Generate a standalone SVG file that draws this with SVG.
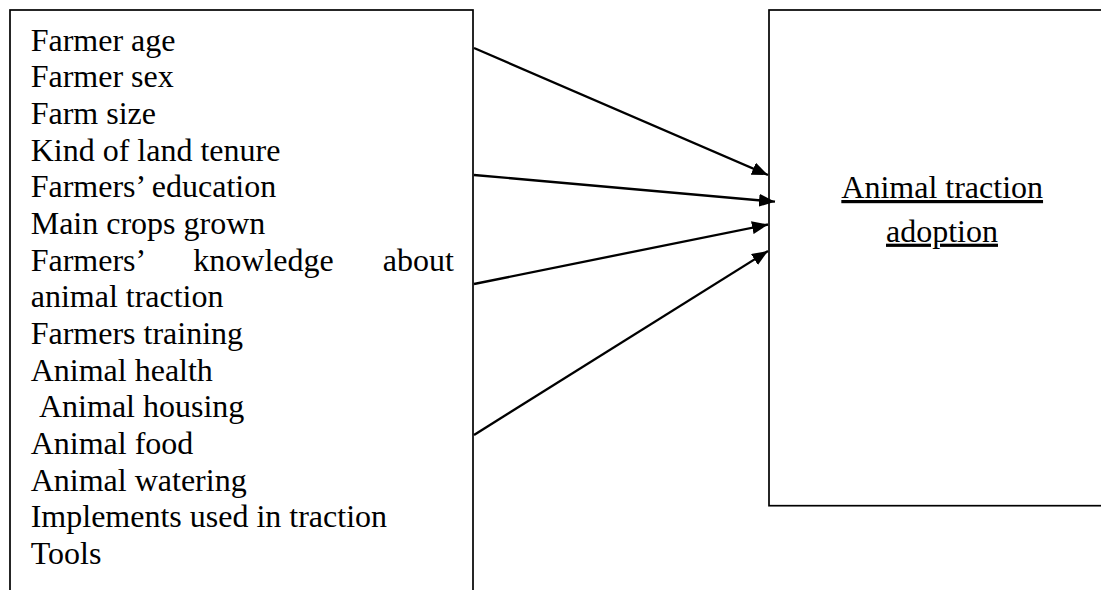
<svg xmlns="http://www.w3.org/2000/svg" width="1101" height="590" viewBox="0 0 1101 590">
<defs>
<style>
.box{fill:#fff;stroke:#000;stroke-width:1.7}
.t{font-family:"Liberation Serif","Times New Roman",serif;font-size:32px;fill:#000}
.u{text-decoration:underline}
.c{stroke:#000;stroke-width:2.3;fill:none}
</style>
<marker id="ah" markerWidth="16" markerHeight="13" refX="16" refY="6.5" orient="auto" markerUnits="userSpaceOnUse">
<path d="M0,0 L16,6.5 L0,13 z" fill="#000"/>
</marker>
</defs>
<rect width="1101" height="590" fill="#fff"/>
<g id="factors">
<rect class="box" x="10" y="10" width="463" height="600"/>
<text class="t" x="30.7" y="50.7">Farmer age</text>
<text class="t" x="30.7" y="87.4">Farmer sex</text>
<text class="t" x="30.7" y="124">Farm size</text>
<text class="t" x="30.7" y="160.7">Kind of land tenure</text>
<text class="t" x="30.7" y="197.3">Farmers’ education</text>
<text class="t" x="30.7" y="234">Main crops grown</text>
<text class="t" x="30.7" y="270.7">Farmers’</text>
<text class="t" x="193.3" y="270.7">knowledge</text>
<text class="t" x="382.7" y="270.7">about</text>
<text class="t" x="30.7" y="307.3">animal traction</text>
<text class="t" x="30.7" y="344">Farmers training</text>
<text class="t" x="30.7" y="380.6">Animal health</text>
<text class="t" x="39" y="417.3">Animal housing</text>
<text class="t" x="30.7" y="454">Animal food</text>
<text class="t" x="30.7" y="490.6">Animal watering</text>
<text class="t" x="30.7" y="527.3">Implements used in traction</text>
<text class="t" x="30.7" y="564">Tools</text>
</g>
<g id="adoption">
<rect class="box" x="769" y="10" width="346" height="495.7"/>
<text class="t u" x="942.2" y="198" text-anchor="middle">Animal traction</text>
<text class="t u" x="942" y="241.7" text-anchor="middle">adoption</text>
</g>
<g id="connectors">
<line class="c" x1="474" y1="48" x2="768" y2="175" marker-end="url(#ah)"/>
<line class="c" x1="474" y1="175" x2="775" y2="201.7" marker-end="url(#ah)"/>
<line class="c" x1="474" y1="284" x2="768" y2="224.5" marker-end="url(#ah)"/>
<line class="c" x1="474" y1="435" x2="768" y2="251" marker-end="url(#ah)"/>
</g>
</svg>
